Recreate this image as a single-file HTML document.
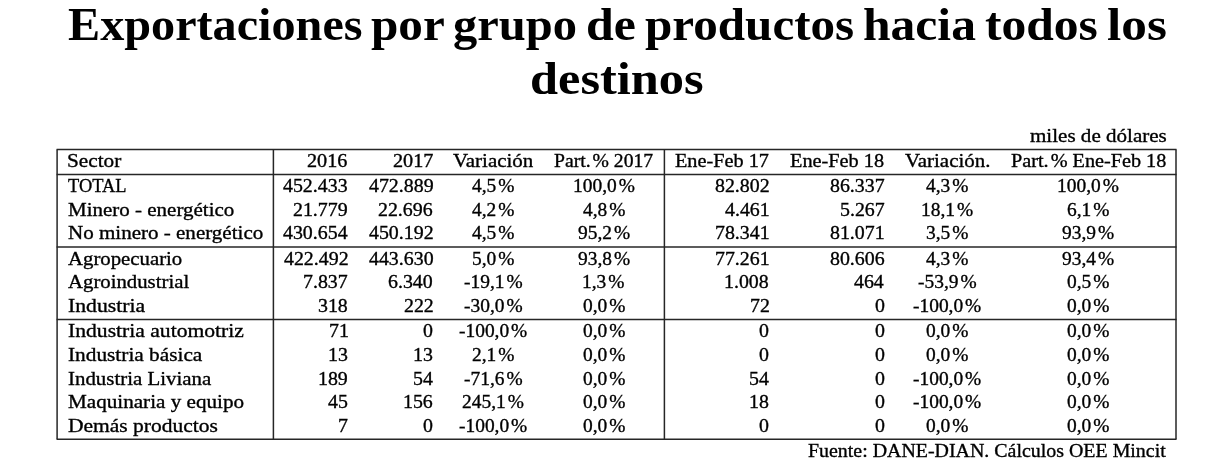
<!DOCTYPE html>
<html lang="es"><head><meta charset="utf-8"><title>Exportaciones por grupo de productos hacia todos los destinos</title>
<style>
html,body{margin:0;padding:0;background:#fff;}
body{width:1211px;height:473px;position:relative;overflow:hidden;font-family:"Liberation Serif",serif;color:#000;}
.t{position:absolute;white-space:pre;line-height:1;margin:0;padding:0;font-weight:normal;transform-origin:0 0;}
.p{margin-left:0.1em;}
.body{font-size:19.5px;font-weight:normal;-webkit-text-stroke:0.35px #000;}
.num{font-size:19.5px;font-weight:normal;-webkit-text-stroke:0.35px #000;}
.caps{font-size:19.5px;font-weight:normal;-webkit-text-stroke:0.35px #000;}
.title{font-size:46.5px;font-weight:bold;-webkit-text-stroke:0px #000;}
svg{position:absolute;left:0;top:0;}
h1{margin:0;padding:0;font-size:inherit;font-weight:inherit;}
</style></head><body>
<svg width="1211" height="473" viewBox="0 0 1211 473" fill="none" stroke="#262626" stroke-width="1.5"><line x1="56.6" y1="149.5" x2="1176.5" y2="149.5"/><line x1="56.6" y1="174.5" x2="1176.5" y2="174.5"/><line x1="56.6" y1="247.1" x2="1176.5" y2="247.1"/><line x1="56.6" y1="319.5" x2="1176.5" y2="319.5"/><line x1="56.6" y1="439.2" x2="1176.5" y2="439.2"/><line x1="57.1" y1="149.5" x2="57.1" y2="439.2"/><line x1="273.4" y1="149.5" x2="273.4" y2="439.2"/><line x1="664.4" y1="149.5" x2="664.4" y2="439.2"/><line x1="1176.0" y1="149.5" x2="1176.0" y2="439.2"/></svg>
<h1>
<span class="t title" style="left:67.94px;top:2px;transform:scaleX(1.0366)">Exportaciones </span>
<span class="t title" style="left:371.19px;top:2px;transform:scaleX(1.0577)">por </span>
<span class="t title" style="left:453.38px;top:2px;transform:scaleX(1.0431)">grupo </span>
<span class="t title" style="left:586.03px;top:2px;transform:scaleX(1.0736)">de </span>
<span class="t title" style="left:644.60px;top:2px;transform:scaleX(1.0559)">productos </span>
<span class="t title" style="left:862.56px;top:2px;transform:scaleX(1.0663)">hacia </span>
<span class="t title" style="left:984.59px;top:2px;transform:scaleX(1.0656)">todos </span>
<span class="t title" style="left:1106.78px;top:2px;transform:scaleX(1.1025)">los</span>
<span class="t title" style="left:529.81px;top:56px;transform:scaleX(1.0842)">destinos</span>
</h1>
<div class="t body" style="left:1029.62px;top:126px;transform:scaleX(1.0794)">miles de dólares</div>
<div class="t body" style="left:807.76px;top:441px;transform:scaleX(1.0209)">Fuente: DANE-DIAN. Cálculos OEE Mincit</div>
<div class="t body" style="left:66.83px;top:151px;transform:scaleX(1.0890)">Sector</div>
<div class="t num" style="left:307.31px;top:151px;transform:scaleX(1.0368)">2016</div>
<div class="t num" style="left:392.51px;top:151px;transform:scaleX(1.0368)">2017</div>
<div class="t body" style="left:453.00px;top:151px;transform:scaleX(1.0741)">Variación</div>
<div class="t body" style="left:554.41px;top:151px;transform:scaleX(1.0085)">Part.<span class="p">%</span> 2017</div>
<div class="t body" style="left:675.15px;top:151px;transform:scaleX(1.0383)">Ene-Feb 17</div>
<div class="t body" style="left:790.45px;top:151px;transform:scaleX(1.0402)">Ene-Feb 18</div>
<div class="t body" style="left:905.10px;top:151px;transform:scaleX(1.0726)">Variación.</div>
<div class="t body" style="left:1010.90px;top:151px;transform:scaleX(1.0367)">Part.<span class="p">%</span> Ene-Feb 18</div>
<div class="t caps" style="left:67.94px;top:176px;transform:scaleX(0.9419)">TOTAL</div>
<div class="t num" style="left:283.37px;top:176px;transform:scaleX(1.0191)">452.433</div>
<div class="t num" style="left:368.74px;top:176px;transform:scaleX(1.0191)">472.889</div>
<div class="t num" style="left:472.09px;top:176px;transform:scaleX(0.9964)">4,5<span class="p">%</span></div>
<div class="t num" style="left:572.61px;top:176px;transform:scaleX(0.9964)">100,0<span class="p">%</span></div>
<div class="t num" style="left:714.93px;top:176px;transform:scaleX(1.0191)">82.802</div>
<div class="t num" style="left:829.72px;top:176px;transform:scaleX(1.0191)">86.337</div>
<div class="t num" style="left:926.19px;top:176px;transform:scaleX(0.9964)">4,3<span class="p">%</span></div>
<div class="t num" style="left:1057.01px;top:176px;transform:scaleX(0.9964)">100,0<span class="p">%</span></div>
<div class="t body" style="left:67.74px;top:200px;transform:scaleX(1.0764)">Minero - energético</div>
<div class="t num" style="left:293.39px;top:200px;transform:scaleX(1.0191)">21.779</div>
<div class="t num" style="left:378.42px;top:200px;transform:scaleX(1.0191)">22.696</div>
<div class="t num" style="left:472.09px;top:200px;transform:scaleX(0.9964)">4,2<span class="p">%</span></div>
<div class="t num" style="left:582.99px;top:200px;transform:scaleX(0.9964)">4,8<span class="p">%</span></div>
<div class="t num" style="left:724.95px;top:200px;transform:scaleX(1.0191)">4.461</div>
<div class="t num" style="left:839.57px;top:200px;transform:scaleX(1.0191)">5.267</div>
<div class="t num" style="left:920.63px;top:200px;transform:scaleX(0.9964)">18,1<span class="p">%</span></div>
<div class="t num" style="left:1067.14px;top:200px;transform:scaleX(0.9964)">6,1<span class="p">%</span></div>
<div class="t body" style="left:67.74px;top:223px;transform:scaleX(1.0784)">No minero - energético</div>
<div class="t num" style="left:283.03px;top:223px;transform:scaleX(1.0191)">430.654</div>
<div class="t num" style="left:368.91px;top:223px;transform:scaleX(1.0191)">450.192</div>
<div class="t num" style="left:472.09px;top:223px;transform:scaleX(0.9964)">4,5<span class="p">%</span></div>
<div class="t num" style="left:577.93px;top:223px;transform:scaleX(0.9964)">95,2<span class="p">%</span></div>
<div class="t num" style="left:714.93px;top:223px;transform:scaleX(1.0191)">78.341</div>
<div class="t num" style="left:830.23px;top:223px;transform:scaleX(1.0191)">81.071</div>
<div class="t num" style="left:925.86px;top:223px;transform:scaleX(0.9964)">3,5<span class="p">%</span></div>
<div class="t num" style="left:1062.33px;top:223px;transform:scaleX(0.9964)">93,9<span class="p">%</span></div>
<div class="t body" style="left:68.10px;top:249px;transform:scaleX(1.0659)">Agropecuario</div>
<div class="t num" style="left:283.71px;top:249px;transform:scaleX(1.0191)">422.492</div>
<div class="t num" style="left:368.57px;top:249px;transform:scaleX(1.0191)">443.630</div>
<div class="t num" style="left:471.68px;top:249px;transform:scaleX(0.9964)">5,0<span class="p">%</span></div>
<div class="t num" style="left:577.93px;top:249px;transform:scaleX(0.9964)">93,8<span class="p">%</span></div>
<div class="t num" style="left:714.93px;top:249px;transform:scaleX(1.0191)">77.261</div>
<div class="t num" style="left:829.72px;top:249px;transform:scaleX(1.0191)">80.606</div>
<div class="t num" style="left:926.19px;top:249px;transform:scaleX(0.9964)">4,3<span class="p">%</span></div>
<div class="t num" style="left:1062.33px;top:249px;transform:scaleX(0.9964)">93,4<span class="p">%</span></div>
<div class="t body" style="left:68.10px;top:272px;transform:scaleX(1.0652)">Agroindustrial</div>
<div class="t num" style="left:303.07px;top:272px;transform:scaleX(1.0191)">7.837</div>
<div class="t num" style="left:388.44px;top:272px;transform:scaleX(1.0191)">6.340</div>
<div class="t num" style="left:463.79px;top:272px;transform:scaleX(0.9964)">-19,1<span class="p">%</span></div>
<div class="t num" style="left:582.33px;top:272px;transform:scaleX(0.9964)">1,3<span class="p">%</span></div>
<div class="t num" style="left:724.44px;top:272px;transform:scaleX(1.0191)">1.008</div>
<div class="t num" style="left:854.18px;top:272px;transform:scaleX(1.0191)">464</div>
<div class="t num" style="left:917.89px;top:272px;transform:scaleX(0.9964)">-53,9<span class="p">%</span></div>
<div class="t num" style="left:1067.23px;top:272px;transform:scaleX(0.9964)">0,5<span class="p">%</span></div>
<div class="t body" style="left:67.54px;top:296px;transform:scaleX(1.1112)">Industria</div>
<div class="t num" style="left:318.19px;top:296px;transform:scaleX(1.0191)">318</div>
<div class="t num" style="left:403.73px;top:296px;transform:scaleX(1.0191)">222</div>
<div class="t num" style="left:463.79px;top:296px;transform:scaleX(0.9964)">-30,0<span class="p">%</span></div>
<div class="t num" style="left:582.83px;top:296px;transform:scaleX(0.9964)">0,0<span class="p">%</span></div>
<div class="t num" style="left:749.58px;top:296px;transform:scaleX(1.0191)">72</div>
<div class="t num" style="left:874.56px;top:296px;transform:scaleX(1.0191)">0</div>
<div class="t num" style="left:913.07px;top:296px;transform:scaleX(0.9964)">-100,0<span class="p">%</span></div>
<div class="t num" style="left:1067.23px;top:296px;transform:scaleX(0.9964)">0,0<span class="p">%</span></div>
<div class="t body" style="left:67.55px;top:321px;transform:scaleX(1.1088)">Industria automotriz</div>
<div class="t num" style="left:328.55px;top:321px;transform:scaleX(1.0191)">71</div>
<div class="t num" style="left:423.26px;top:321px;transform:scaleX(1.0191)">0</div>
<div class="t num" style="left:458.97px;top:321px;transform:scaleX(0.9964)">-100,0<span class="p">%</span></div>
<div class="t num" style="left:582.83px;top:321px;transform:scaleX(0.9964)">0,0<span class="p">%</span></div>
<div class="t num" style="left:759.26px;top:321px;transform:scaleX(1.0191)">0</div>
<div class="t num" style="left:874.56px;top:321px;transform:scaleX(1.0191)">0</div>
<div class="t num" style="left:926.03px;top:321px;transform:scaleX(0.9964)">0,0<span class="p">%</span></div>
<div class="t num" style="left:1067.23px;top:321px;transform:scaleX(0.9964)">0,0<span class="p">%</span></div>
<div class="t body" style="left:67.55px;top:345px;transform:scaleX(1.0929)">Industria básica</div>
<div class="t num" style="left:328.21px;top:345px;transform:scaleX(1.0191)">13</div>
<div class="t num" style="left:413.41px;top:345px;transform:scaleX(1.0191)">13</div>
<div class="t num" style="left:471.84px;top:345px;transform:scaleX(0.9964)">2,1<span class="p">%</span></div>
<div class="t num" style="left:582.83px;top:345px;transform:scaleX(0.9964)">0,0<span class="p">%</span></div>
<div class="t num" style="left:759.26px;top:345px;transform:scaleX(1.0191)">0</div>
<div class="t num" style="left:874.56px;top:345px;transform:scaleX(1.0191)">0</div>
<div class="t num" style="left:926.03px;top:345px;transform:scaleX(0.9964)">0,0<span class="p">%</span></div>
<div class="t num" style="left:1067.23px;top:345px;transform:scaleX(0.9964)">0,0<span class="p">%</span></div>
<div class="t body" style="left:67.56px;top:369px;transform:scaleX(1.0708)">Industria Liviana</div>
<div class="t num" style="left:318.19px;top:369px;transform:scaleX(1.0191)">189</div>
<div class="t num" style="left:412.90px;top:369px;transform:scaleX(1.0191)">54</div>
<div class="t num" style="left:463.79px;top:369px;transform:scaleX(0.9964)">-71,6<span class="p">%</span></div>
<div class="t num" style="left:582.83px;top:369px;transform:scaleX(0.9964)">0,0<span class="p">%</span></div>
<div class="t num" style="left:748.90px;top:369px;transform:scaleX(1.0191)">54</div>
<div class="t num" style="left:874.56px;top:369px;transform:scaleX(1.0191)">0</div>
<div class="t num" style="left:913.07px;top:369px;transform:scaleX(0.9964)">-100,0<span class="p">%</span></div>
<div class="t num" style="left:1067.23px;top:369px;transform:scaleX(0.9964)">0,0<span class="p">%</span></div>
<div class="t body" style="left:67.74px;top:392px;transform:scaleX(1.0836)">Maquinaria y equipo</div>
<div class="t num" style="left:328.21px;top:392px;transform:scaleX(1.0191)">45</div>
<div class="t num" style="left:403.22px;top:392px;transform:scaleX(1.0191)">156</div>
<div class="t num" style="left:462.13px;top:392px;transform:scaleX(0.9964)">245,1<span class="p">%</span></div>
<div class="t num" style="left:582.83px;top:392px;transform:scaleX(0.9964)">0,0<span class="p">%</span></div>
<div class="t num" style="left:749.24px;top:392px;transform:scaleX(1.0191)">18</div>
<div class="t num" style="left:874.56px;top:392px;transform:scaleX(1.0191)">0</div>
<div class="t num" style="left:913.07px;top:392px;transform:scaleX(0.9964)">-100,0<span class="p">%</span></div>
<div class="t num" style="left:1067.23px;top:392px;transform:scaleX(0.9964)">0,0<span class="p">%</span></div>
<div class="t body" style="left:67.73px;top:416px;transform:scaleX(1.1022)">Demás productos</div>
<div class="t num" style="left:337.89px;top:416px;transform:scaleX(1.0191)">7</div>
<div class="t num" style="left:423.26px;top:416px;transform:scaleX(1.0191)">0</div>
<div class="t num" style="left:458.97px;top:416px;transform:scaleX(0.9964)">-100,0<span class="p">%</span></div>
<div class="t num" style="left:582.83px;top:416px;transform:scaleX(0.9964)">0,0<span class="p">%</span></div>
<div class="t num" style="left:759.26px;top:416px;transform:scaleX(1.0191)">0</div>
<div class="t num" style="left:874.56px;top:416px;transform:scaleX(1.0191)">0</div>
<div class="t num" style="left:926.03px;top:416px;transform:scaleX(0.9964)">0,0<span class="p">%</span></div>
<div class="t num" style="left:1067.23px;top:416px;transform:scaleX(0.9964)">0,0<span class="p">%</span></div>
</body></html>
